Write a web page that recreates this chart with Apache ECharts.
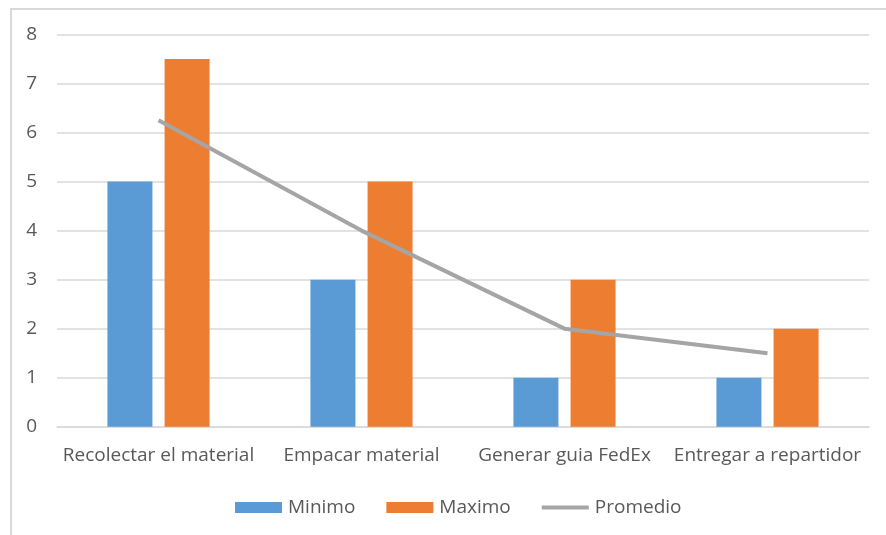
<!DOCTYPE html>
<html>
<head>
<meta charset="utf-8">
<script src="https://cdn.jsdelivr.net/npm/echarts@6/dist/echarts.min.js"></script>
<style>
  html, body { margin: 0; padding: 0; background: #fff; }
  #frame { position: absolute; left: 10px; top: 8px; width: 900px; height: 560px; border: 2px solid #d9d9d9; }
  #main { position: absolute; left: 0; top: 0; width: 886px; height: 535px; }
</style>
</head>
<body>
<div id="frame"></div>
<div id="main"></div>
<script>
const categories = ['Recolectar el material', 'Empacar material', 'Generar guia FedEx', 'Entregar a repartidor'];
const minimo = [5, 3, 1, 1];
const maximo = [7.5, 5, 3, 2];
const promedio = [6.25, 4, 2, 1.5];

const font = '"Open Sans", sans-serif';
const textColor = '#595959';

const myChart = echarts.init(document.getElementById('main'), null, {renderer: 'canvas'});

// thin bar in the middle of the legend box, corners only set the bounding box
const lineIcon = 'path://M0,0L0.01,0L0,0.01ZM50,11L49.99,11L50,10.99ZM0,3.5H50V7.5H0Z';

const option = {
    animation: false,
    backgroundColor: 'transparent',
    textStyle: {fontFamily: font},
    grid: {left: 57, right: 17, top: 34.5, bottom: 108.3, containLabel: false},
    legend: {
        left: 235,
        top: 498,
        padding: 0,
        itemWidth: 47,
        itemHeight: 11,
        itemGap: 31,
        textStyle: {fontFamily: font, fontSize: 19, color: textColor, padding: [0, 0, 0, 1]},
        data: [
            {name: 'Minimo', icon: 'rect'},
            {name: 'Maximo', icon: 'rect'},
            {name: 'Promedio', icon: lineIcon}
        ]
    },
    xAxis: {
        type: 'category',
        data: categories,
        axisLine: {lineStyle: {color: '#d9d9d9', width: 1.5}},
        axisTick: {show: false},
        axisLabel: {fontFamily: font, fontSize: 19, color: textColor, margin: 19, interval: 0}
    },
    yAxis: {
        type: 'value',
        min: 0,
        max: 8,
        interval: 1,
        axisLine: {show: false},
        axisTick: {show: false},
        splitLine: {lineStyle: {color: '#d9d9d9', width: 1.5}},
        axisLabel: {fontFamily: font, fontSize: 19, color: textColor, margin: 20}
    },
    series: [
        {
            name: 'Minimo',
            type: 'bar',
            data: minimo,
            barWidth: 45,
            barGap: '27%',
            itemStyle: {color: '#5b9bd5'}
        },
        {
            name: 'Maximo',
            type: 'bar',
            data: maximo,
            barWidth: 45,
            itemStyle: {color: '#ed7d31'}
        },
        {
            name: 'Promedio',
            type: 'line',
            data: promedio,
            symbol: 'none',
            lineStyle: {color: '#a5a5a5', width: 4},
            itemStyle: {color: '#a5a5a5'}
        }
    ]
};

myChart.setOption(option);
</script>
</body>
</html>
